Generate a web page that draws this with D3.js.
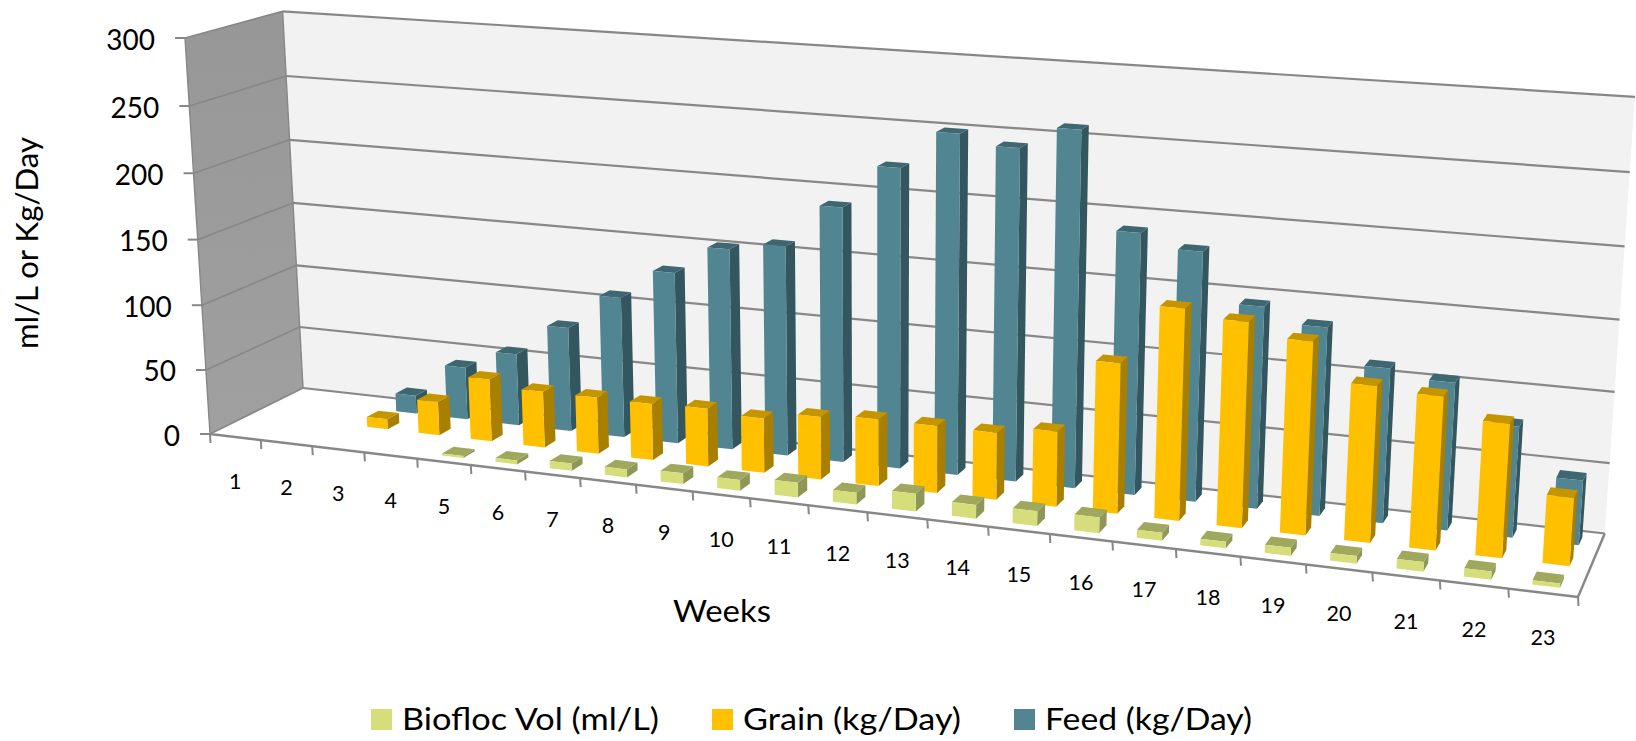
<!DOCTYPE html>
<html>
<head>
<meta charset="utf-8">
<script src="https://cdnjs.cloudflare.com/ajax/libs/d3/7.8.5/d3.min.js"></script>
<style>
  html, body { margin: 0; padding: 0; background: #fff; }
  svg { display: block; }
  text { font-family: Lato, sans-serif; fill: #000; }
</style>
</head>
<body>
<div id="chart"></div>
<script>
const width = 1636;
const height = 741;

const weeks = d3.range(1, 24).map(String);
const yTicks = [0, 50, 100, 150, 200, 250, 300];
const seriesNames = ["Biofloc Vol (ml/L)", "Grain (kg/Day)", "Feed (kg/Day)"];

// weeks 1-4 have no biofloc reading, weeks 1-2 have no grain or feed
const biofloc = [null, null, null, null, 1.5, 3, 5.5, 6, 8, 8, 11, 8.7, 13, 10, 10.6, 11.3, 5.6, 4.6, 5.7, 5.3, 6.6, 5.6, 3];
const grain = [null, null, 7.9, 26, 48, 43, 43, 42.7, 43.7, 41, 46.6, 49.5, 49.3, 49, 54.6, 108, 150.6, 145.4, 136, 109.7, 107, 93, 47];
const feed = [null, null, 14.2, 41, 55.8, 80.5, 107.7, 130.5, 152, 157.8, 190, 222, 249.6, 242.6, 258.6, 189.5, 180, 145, 134.6, 110, 104.5, 78.4, 45.6];

const seriesValues = [biofloc, grain, feed];
const faceColors = [
  { front: "#d6de7c", side: "#8f9658", top: "#a0a85e" },
  { front: "#ffc000", side: "#a97f00", top: "#c59500" },
  { front: "#528592", side: "#33565f", top: "#3f6772" }
];

// floor and wall corners of the 3d box
const origin = [210, 434];
const cornerX = [1578, 597];
const cornerY = [303, 388];
const cornerZ = [185, 38];
const persp = [-0.152, 0.054, -0.036];

const ax = [cornerX, cornerY, cornerZ].map((c, i) => [
  c[0] * (1 + persp[i]) - origin[0],
  c[1] * (1 + persp[i]) - origin[1]
]);

// x = along weeks, y = into the picture, z = up, all 0..1
function project(x, y, z) {
  const s = 1 + persp[0] * x + persp[1] * y + persp[2] * z;
  return [
    (origin[0] + ax[0][0] * x + ax[1][0] * y + ax[2][0] * z) / s,
    (origin[1] + ax[0][1] * x + ax[1][1] * y + ax[2][1] * z) / s
  ];
}

const xBand = d3.scaleBand().domain(weeks).range([0, 1]).paddingInner(0.6).paddingOuter(0.3);
const yBand = d3.scaleBand().domain(seriesNames).range([0, 1]).paddingInner(0.6).paddingOuter(0.3);
const zScale = d3.scaleLinear().domain([0, 300]).range([0, 1]);

const line = d3.line();
const poly = (pts) => line(pts) + "Z";

const svg = d3.select("#chart").append("svg").attr("width", width).attr("height", height);

const axisColor = "#878787";

// back wall, floor, side wall
svg.append("path")
  .attr("d", poly([project(0, 1, 0), project(1, 1, 0), project(1, 1, 1), project(0, 1, 1)]))
  .attr("fill", "#f2f2f2");

const defs = svg.append("defs");
const wallGrad = defs.append("linearGradient").attr("id", "sideWall").attr("x1", 0).attr("x2", 0).attr("y1", 0).attr("y2", 1);
wallGrad.append("stop").attr("offset", "0%").attr("stop-color", "#979797");
wallGrad.append("stop").attr("offset", "100%").attr("stop-color", "#a0a0a0");

svg.append("path")
  .attr("d", poly([project(0, 0, 0), project(0, 1, 0), project(0, 1, 1), project(0, 0, 1)]))
  .attr("fill", "url(#sideWall)");

// gridlines on both walls
const grid = svg.append("g").attr("fill", "none").attr("stroke", axisColor);
grid.selectAll(".back")
  .data(yTicks)
  .enter()
  .append("path")
  .attr("class", "back")
  .attr("stroke-width", 2.2)
  .attr("d", (d) => line([project(0, 1, zScale(d)), project(1, 1, zScale(d))]));
grid.selectAll(".side")
  .data(yTicks)
  .enter()
  .append("path")
  .attr("class", "side")
  .attr("stroke-width", 1.6)
  .attr("d", (d) => line([project(0, 0, zScale(d)), project(0, 1, zScale(d))]));

// floor edges and wall edges
const edges = [
  [project(0, 0, 0), project(1, 0, 0)],
  [project(1, 0, 0), project(1, 1, 0)],
  [project(0, 0, 0), project(0, 0, 1)],
  [project(0, 1, 0), project(0, 1, 1)]
];
grid.selectAll(".edge")
  .data(edges)
  .enter()
  .append("path")
  .attr("class", "edge")
  .attr("stroke-width", (d, i) => (i < 2 ? 2.4 : 1.4))
  .attr("d", (d) => line(d));

// axis ticks
const xTickPos = d3.range(0, weeks.length + 1).map((i) => i / weeks.length);
grid.selectAll(".xtick")
  .data(xTickPos)
  .enter()
  .append("path")
  .attr("class", "xtick")
  .attr("stroke-width", 2)
  .attr("d", (d) => {
    const p = project(d, 0, 0);
    return line([p, [p[0] + 0.5, p[1] + 9]]);
  });
grid.selectAll(".ztick")
  .data(yTicks)
  .enter()
  .append("path")
  .attr("class", "ztick")
  .attr("stroke-width", 2)
  .attr("d", (d) => {
    const p = project(0, 0, zScale(d));
    return line([p, [p[0] - 10, p[1]]]);
  });

// bars, back row first
const bars = [];
seriesNames.forEach((name, si) => {
  seriesValues[si].forEach((v, wi) => {
    if (v === null) return;
    bars.push({ name, si, week: weeks[wi], value: v });
  });
});
bars.sort((a, b) => b.si - a.si);

const barGroups = svg.append("g")
  .selectAll("g")
  .data(bars)
  .enter()
  .append("g");

function barFace(d, face) {
  const x0 = xBand(d.week);
  const x1 = x0 + xBand.bandwidth();
  const y0 = yBand(d.name);
  const y1 = y0 + yBand.bandwidth();
  const z = zScale(d.value);
  if (face === "front") return poly([project(x0, y0, 0), project(x1, y0, 0), project(x1, y0, z), project(x0, y0, z)]);
  if (face === "side") return poly([project(x1, y0, 0), project(x1, y1, 0), project(x1, y1, z), project(x1, y0, z)]);
  return poly([project(x0, y0, z), project(x1, y0, z), project(x1, y1, z), project(x0, y1, z)]);
}

["side", "top", "front"].forEach((face) => {
  barGroups.append("path")
    .attr("d", (d) => barFace(d, face))
    .attr("fill", (d) => faceColors[d.si][face]);
});

// tick labels
svg.append("g")
  .selectAll("text")
  .data(weeks)
  .enter()
  .append("text")
  .attr("text-anchor", "middle")
  .attr("font-size", 21.5)
  .attr("x", (d) => project(xBand(d) + xBand.bandwidth() / 2, 0, 0)[0])
  .attr("y", (d) => project(xBand(d) + xBand.bandwidth() / 2, 0, 0)[1] + 52)
  .text((d) => d);

svg.append("g")
  .selectAll("text")
  .data(yTicks)
  .enter()
  .append("text")
  .attr("text-anchor", "end")
  .attr("font-size", 28)
  .attr("x", (d) => project(0, 0, zScale(d))[0] - 30)
  .attr("y", (d) => project(0, 0, zScale(d))[1] + 11.5)
  .text((d) => d);

// axis titles
svg.append("text")
  .attr("text-anchor", "middle")
  .attr("font-size", 30)
  .attr("textLength", 212)
  .attr("lengthAdjust", "spacingAndGlyphs")
  .attr("transform", "translate(38,243) rotate(-90)")
  .text("ml/L or Kg/Day");

svg.append("text")
  .attr("text-anchor", "middle")
  .attr("font-size", 31)
  .attr("textLength", 98)
  .attr("lengthAdjust", "spacingAndGlyphs")
  .attr("x", 722)
  .attr("y", 622)
  .text("Weeks");

// legend
const legendX = d3.scaleOrdinal().domain(seriesNames).range([371, 712, 1014]);
const legendTextWidth = d3.scaleOrdinal().domain(seriesNames).range([257, 218, 207]);
const legend = svg.append("g")
  .selectAll("g")
  .data(seriesNames)
  .enter()
  .append("g")
  .attr("transform", (d) => `translate(${legendX(d)},709)`);

legend.append("rect")
  .attr("width", 21)
  .attr("height", 21)
  .attr("fill", (d, i) => faceColors[i].front);

legend.append("text")
  .attr("x", 31)
  .attr("y", 21)
  .attr("font-size", 31)
  .attr("textLength", (d) => legendTextWidth(d))
  .attr("lengthAdjust", "spacingAndGlyphs")
  .text((d) => d);
</script>
</body>
</html>
